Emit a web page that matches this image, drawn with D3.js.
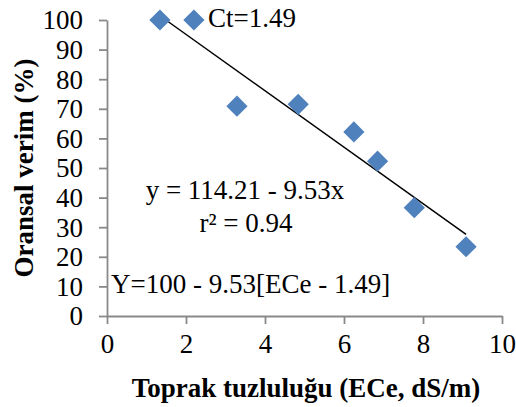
<!DOCTYPE html>
<html>
<head>
<meta charset="utf-8">
<script src="https://cdn.jsdelivr.net/npm/d3@7"></script>
<style>
  body { margin: 0; background: #fff; }
  text { font-family: "Liberation Serif", "Times New Roman", serif; fill: #000; }
</style>
</head>
<body>
<div id="chart"></div>
<script>
// data
var salinity = [1.34, 2.2, 3.29, 4.84, 6.25, 6.85, 7.78, 9.09];
var yieldPct = [100, 100, 70.9, 71.5, 62.2, 52.3, 36.6, 23.4];
var trendX = [1.49, 9.09];
var trendY = [100.0, 27.6];
var xTicks = [0, 2, 4, 6, 8, 10];
var yTicks = [0, 10, 20, 30, 40, 50, 60, 70, 80, 90, 100];

var svgWidth = 516;
var svgHeight = 407;
var margin = {top: 20, right: 14, bottom: 91, left: 107};

var svg = d3.select("#chart")
    .append("svg")
    .attr("width", svgWidth)
    .attr("height", svgHeight);

var xScale = d3.scaleLinear()
    .domain([0, 10])
    .range([margin.left, svgWidth - margin.right]);
var yScale = d3.scaleLinear()
    .domain([0, 100])
    .range([svgHeight - margin.bottom, margin.top]);

var axisColor = "#898989";

//x axis
var xAxis = svg.append("g")
    .attr("transform", "translate(0," + yScale(0) + ")")
    .call(d3.axisBottom(xScale).tickValues(xTicks).tickSize(8).tickSizeOuter(0).tickPadding(10));
//y axis
var yAxis = svg.append("g")
    .attr("transform", "translate(" + xScale(0) + ",0)")
    .call(d3.axisLeft(yScale).tickValues(yTicks).tickSize(8).tickSizeOuter(0).tickPadding(16));

[xAxis, yAxis].forEach(function(ax){
    ax.selectAll("path, line")
        .attr("stroke", axisColor)
        .attr("stroke-width", 1.8);
    ax.selectAll("text")
        .style("font-family", '"Liberation Serif", "Times New Roman", serif')
        .style("font-size", "27px")
        .attr("fill", "#000");
});
yAxis.selectAll("text").attr("dy", "0.33em");
xAxis.selectAll("text").attr("dy", "0.72em");

//trend line
var line = d3.line()
    .x(function(d){ return xScale(d[0]); })
    .y(function(d){ return yScale(d[1]); });
svg.append("path")
    .datum(d3.zip(trendX, trendY))
    .attr("d", line)
    .attr("fill", "none")
    .attr("stroke", "#000")
    .attr("stroke-width", 1.5);

//diamonds
svg.selectAll(".pt")
    .data(d3.zip(salinity, yieldPct))
    .enter()
    .append("path")
    .attr("class", "pt")
    .attr("d", d3.symbol(d3.symbolSquare).size(225))
    .attr("transform", function(d){
        return "translate(" + xScale(d[0]) + "," + yScale(d[1]) + ") rotate(45)";
    })
    .attr("fill", "#4F81BD");

//annotations
svg.append("text")
    .attr("x", 208)
    .attr("y", 27)
    .style("font-size", "27px")
    .text("Ct=1.49");
svg.append("text")
    .attr("x", 245)
    .attr("y", 199)
    .style("text-anchor", "middle")
    .style("font-size", "27px")
    .text("y = 114.21 - 9.53x");
svg.append("text")
    .attr("x", 246)
    .attr("y", 232)
    .style("text-anchor", "middle")
    .style("font-size", "27px")
    .text("r² = 0.94");
svg.append("text")
    .attr("x", 111)
    .attr("y", 293)
    .style("font-size", "27px")
    .text("Y=100 - 9.53[ECe - 1.49]");

//axis titles
svg.append("text")
    .attr("x", 306)
    .attr("y", 397)
    .style("text-anchor", "middle")
    .style("font-size", "27px")
    .style("font-weight", "bold")
    .text("Toprak tuzluluğu (ECe, dS/m)");
svg.append("text")
    .attr("transform", "translate(33," + ((yScale(0) + yScale(100)) / 2) + ") rotate(-90)")
    .style("text-anchor", "middle")
    .style("font-size", "27px")
    .style("font-weight", "bold")
    .text("Oransal verim (%)");
</script>
</body>
</html>
